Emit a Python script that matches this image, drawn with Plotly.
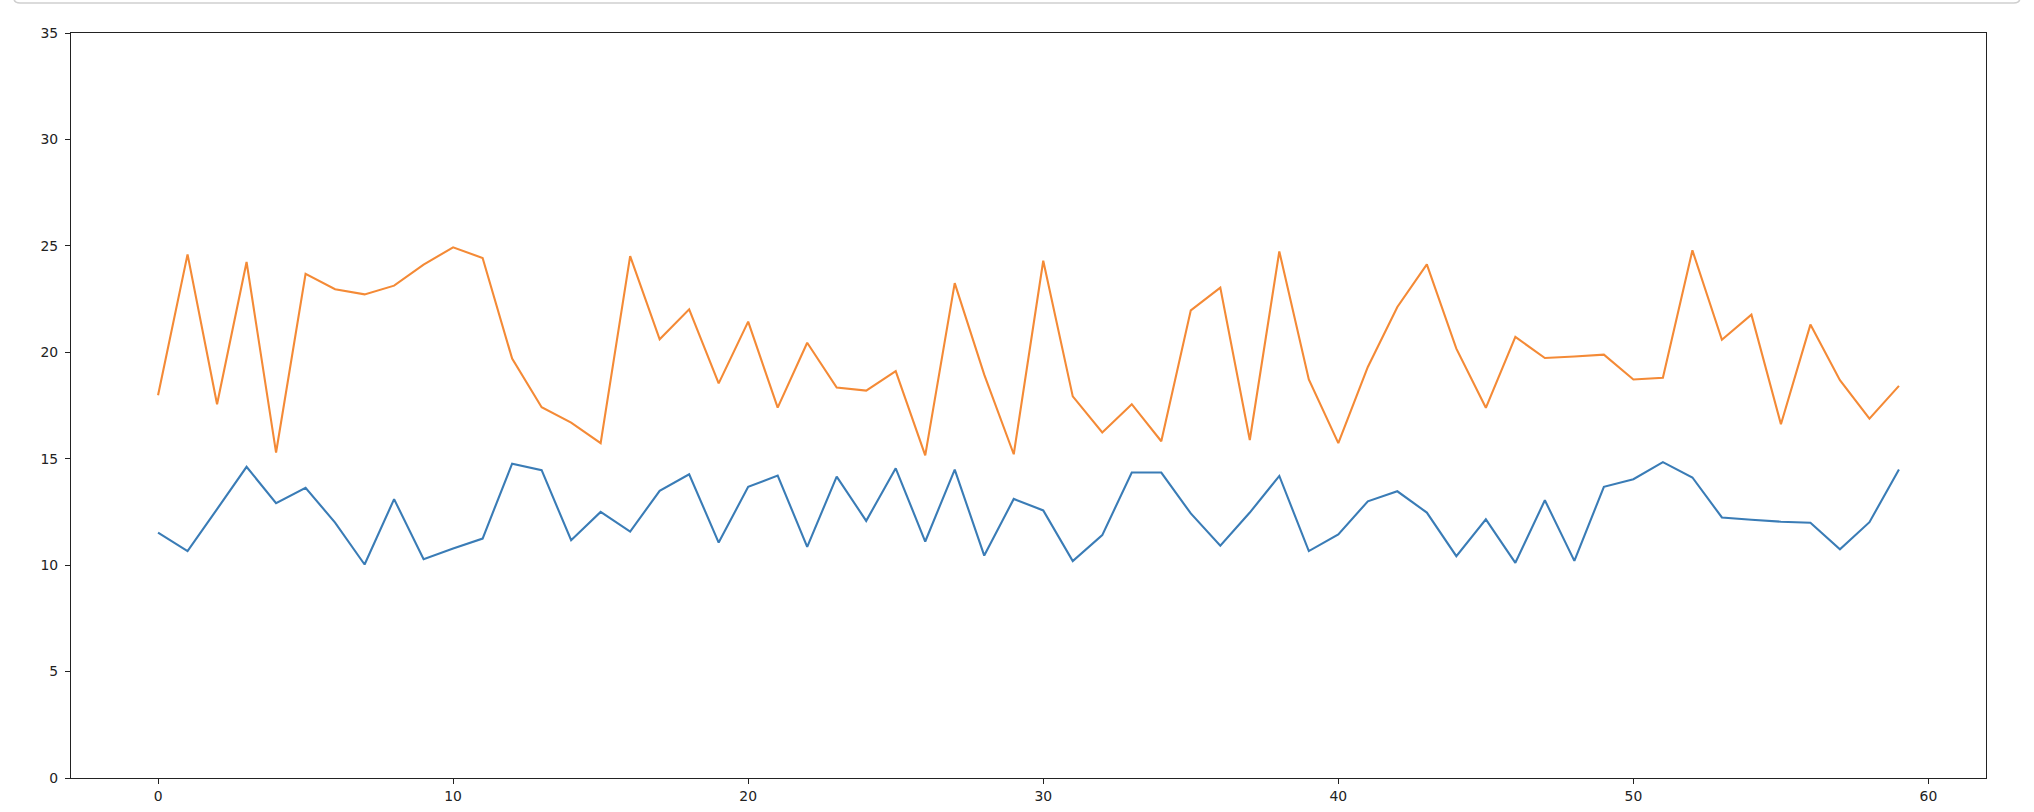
import plotly.graph_objects as go

x_vals = list(range(60))

series_blue = [11.53, 10.66, 12.63, 14.62, 12.91, 13.63, 12.00, 10.03, 13.10, 10.28,
               10.78, 11.25, 14.77, 14.46, 11.17, 12.50, 11.58, 13.49, 14.27, 11.06,
               13.68, 14.21, 10.86, 14.16, 12.08, 14.55, 11.11, 14.49, 10.45, 13.11,
               12.57, 10.19, 11.41, 14.35, 14.35, 12.43, 10.91, 12.47, 14.19, 10.66,
               11.44, 13.00, 13.47, 12.47, 10.42, 12.15, 10.11, 13.05, 10.20, 13.68,
               14.04, 14.84, 14.12, 12.24, 12.13, 12.04, 11.99, 10.74, 12.02, 14.49]

series_orange = [17.98, 24.60, 17.56, 24.24, 15.29, 23.69, 22.96, 22.72, 23.13, 24.12,
                 24.93, 24.43, 19.70, 17.42, 16.70, 15.73, 24.52, 20.61, 22.02, 18.54,
                 21.44, 17.40, 20.45, 18.34, 18.20, 19.11, 15.16, 23.25, 18.95, 15.21,
                 24.30, 17.93, 16.23, 17.56, 15.82, 21.97, 23.04, 15.88, 24.74, 18.72,
                 15.73, 19.31, 22.13, 24.13, 20.17, 17.39, 20.72, 19.73, 19.80, 19.89,
                 18.72, 18.80, 24.79, 20.59, 21.77, 16.62, 21.30, 18.69, 16.88, 18.42]

x_ticks = [0, 10, 20, 30, 40, 50, 60]
y_ticks = [0, 5, 10, 15, 20, 25, 30, 35]

fig = go.Figure()
fig.add_trace(go.Scatter(x=x_vals, y=series_blue, mode="lines",
                         line=dict(color="#3a7cb6", width=2.1), showlegend=False))
fig.add_trace(go.Scatter(x=x_vals, y=series_orange, mode="lines",
                         line=dict(color="#f48a36", width=2.1), showlegend=False))

axis_common = dict(showgrid=False, zeroline=False, showline=True, linecolor="#222",
                   linewidth=1.1, mirror=True, ticks="outside", ticklen=5,
                   tickcolor="#222", automargin=False,
                   tickfont=dict(family="DejaVu Sans", size=13.9, color="#222"))

fig.update_layout(
    width=2034, height=812,
    margin=dict(l=71, r=48, t=33, b=34, autoexpand=False),
    paper_bgcolor="white", plot_bgcolor="white",
    xaxis=dict(range=[-2.95, 61.95], tickvals=x_ticks, ticklabelstandoff=0, **axis_common),
    yaxis=dict(range=[0, 35], tickvals=y_ticks, ticklabelstandoff=4, **axis_common),
)

# light gray input-box edge at the very top of the page
fig.add_shape(type="path", xref="paper", yref="paper",
              path="M -0.0298,1.07 L -0.0298,1.0470 Q -0.0298,1.0403 -0.0266,1.0403 "
                   "L 1.0145,1.0403 Q 1.0177,1.0403 1.0177,1.0470 L 1.0177,1.07",
              line=dict(color="#cfcfcf", width=1.5))

fig.write_html("out.html", config={"displayModeBar": False},
               post_script="document.body.style.margin='0';document.body.style.padding='0';")
